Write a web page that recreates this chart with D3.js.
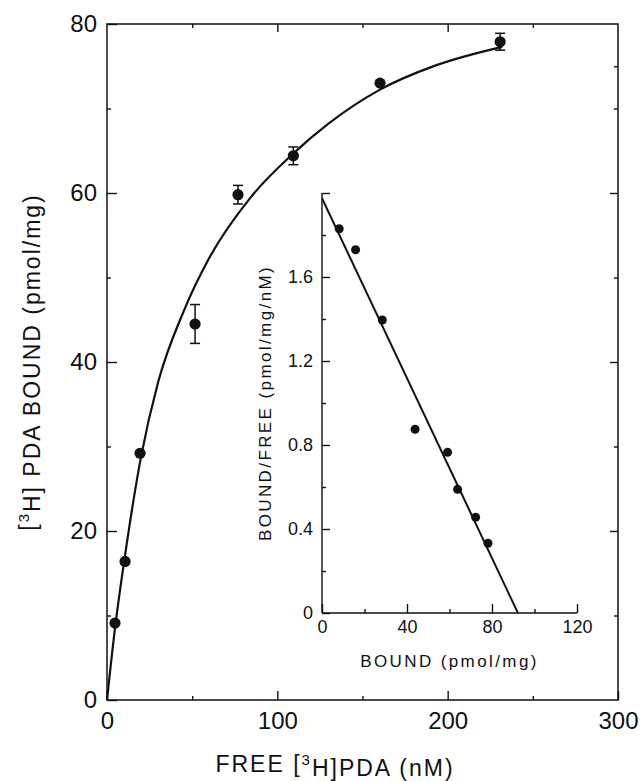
<!DOCTYPE html>
<html>
<head>
<meta charset="utf-8">
<script src="https://cdn.jsdelivr.net/npm/d3@7"></script>
<style>
  body { margin: 0; background: #fff; }
  svg { display: block; }
  .axis path { display: none; }
  .axis line { stroke: #111; stroke-width: 1.4; }
  .axis text { fill: #111; font-family: "Liberation Sans", Arial, sans-serif; }
</style>
</head>
<body>
<div id="chart"></div>
<script>
// main plot: free [3H]PDA (nM) vs bound (pmol/mg)
var freeConc = [4.7, 10.6, 19.4, 51.7, 76.9, 109.4, 160.3, 230.8];
var boundVal = [9.1, 16.4, 29.2, 44.5, 59.8, 64.4, 73.0, 77.9];
var boundErr = [0, 0, 0, 2.3, 1.1, 1.05, 0, 1.0];

// fitted saturation curve
var fitX = [0, 5, 10, 20, 30, 45, 60, 84, 109, 130, 160, 193, 232];
var fitY = [0, 9.0, 16.3, 28.8, 37.6, 46.0, 52.3, 59.4, 64.6, 68.2, 72.2, 75.1, 77.3];

// inset: Scatchard plot
var scBound = [8.1, 15.8, 28.4, 43.8, 59.1, 63.8, 72.3, 78.1];
var scRatio = [1.83, 1.73, 1.395, 0.875, 0.765, 0.589, 0.456, 0.332];
var scLineX = [0, 92.2];
var scLineY = [1.975, 0];

var xTicks = [0, 100, 200, 300];
var yTicks = [0, 20, 40, 60, 80];
var ixTicks = [0, 40, 80, 120];
var iyTicks = [0, 0.4, 0.8, 1.2, 1.6];

var W = 641, H = 781;
var font = '"Liberation Sans", Arial, sans-serif';

var svg = d3.select("#chart").append("svg")
    .attr("width", W)
    .attr("height", H);

/* Scales */
var x = d3.scaleLinear().domain([0, 300]).range([107, 618]);
var y = d3.scaleLinear().domain([0, 80]).range([700, 24]);
var ix = d3.scaleLinear().domain([0, 120]).range([322, 577]);
var iy = d3.scaleLinear().domain([0, 2]).range([613, 193]);

/* main frame */
svg.append("rect")
    .attr("x", x(0)).attr("y", y(80))
    .attr("width", x(300) - x(0)).attr("height", y(0) - y(80))
    .style("fill", "none").style("stroke", "#111").style("stroke-width", 1.5);

// bottom
svg.append("g").attr("class", "axis")
    .attr("transform", `translate(0, ${y(0)})`)
    .call(d3.axisBottom(x).tickValues(xTicks).tickSize(-9).tickPadding(12).tickFormat(d3.format("d")))
    .selectAll("text").style("font-size", "24px");
svg.append("g").attr("class", "axis")
    .attr("transform", `translate(0, ${y(0)})`)
    .call(d3.axisBottom(x).tickValues([50, 150, 250]).tickSize(-4).tickFormat(""));
// top
svg.append("g").attr("class", "axis")
    .attr("transform", `translate(0, ${y(80)})`)
    .call(d3.axisTop(x).tickValues([100, 200]).tickSize(-8).tickFormat(""));
svg.append("g").attr("class", "axis")
    .attr("transform", `translate(0, ${y(80)})`)
    .call(d3.axisTop(x).tickValues([50, 150, 250]).tickSize(-4).tickFormat(""));
// left
svg.append("g").attr("class", "axis")
    .attr("transform", `translate(${x(0)}, 0)`)
    .call(d3.axisLeft(y).tickValues(yTicks).tickSize(-10).tickPadding(10).tickFormat(d3.format("d")))
    .selectAll("text").style("font-size", "24px");
svg.append("g").attr("class", "axis")
    .attr("transform", `translate(${x(0)}, 0)`)
    .call(d3.axisLeft(y).tickValues([10, 30, 50, 70]).tickSize(-4).tickFormat(""));
// right
svg.append("g").attr("class", "axis")
    .attr("transform", `translate(${x(300)}, 0)`)
    .call(d3.axisRight(y).tickValues([20, 40, 60]).tickSize(-8).tickFormat(""));
svg.append("g").attr("class", "axis")
    .attr("transform", `translate(${x(300)}, 0)`)
    .call(d3.axisRight(y).tickValues([10, 30, 50, 70, 75]).tickSize(-4).tickFormat(""));

/* fitted curve */
var line = d3.line()
    .curve(d3.curveMonotoneX)
    .x(d => x(d[0]))
    .y(d => y(d[1]));
svg.append("path")
    .attr("d", line(fitX.map((v, i) => [v, fitY[i]])))
    .style("fill", "none").style("stroke", "#111").style("stroke-width", 2.2);

/* error bars */
var pts = freeConc.map((v, i) => ({ x: v, y: boundVal[i], e: boundErr[i] }));
var eb = svg.append("g").attr("class", "errbars")
    .selectAll("g").data(pts.filter(d => d.e > 0)).enter().append("g");
eb.append("line")
    .attr("x1", d => x(d.x)).attr("x2", d => x(d.x))
    .attr("y1", d => y(d.y + d.e)).attr("y2", d => y(d.y - d.e))
    .style("stroke", "#111").style("stroke-width", 1.5);
eb.selectAll(".cap").data(d => [[d.x, d.y + d.e], [d.x, d.y - d.e]]).enter()
    .append("line")
    .attr("x1", d => x(d[0]) - 5).attr("x2", d => x(d[0]) + 5)
    .attr("y1", d => y(d[1])).attr("y2", d => y(d[1]))
    .style("stroke", "#111").style("stroke-width", 1.5);

svg.append("g").selectAll("circle")
    .data(pts).enter().append("circle")
    .attr("cx", d => x(d.x))
    .attr("cy", d => y(d.y))
    .attr("r", 5.6)
    .style("fill", "#111");

/* main axis titles */
var xt = svg.append("text")
    .attr("x", 335).attr("y", 772)
    .attr("text-anchor", "middle")
    .style("font-family", font).style("font-size", "23px").style("letter-spacing", "2px")
    .style("fill", "#111");
xt.append("tspan").text("FREE [");
xt.append("tspan").attr("dy", "-0.45em").style("font-size", "15px").text("3");
xt.append("tspan").attr("dy", "0.45em").text("H]PDA (nM)");

var yt = svg.append("text")
    .attr("transform", `translate(36, ${y(40)}) rotate(-90)`)
    .attr("text-anchor", "middle")
    .style("font-family", font).style("font-size", "23px").style("letter-spacing", "2px")
    .style("fill", "#111");
yt.append("tspan").text("[");
yt.append("tspan").attr("dy", "-0.45em").style("font-size", "15px").text("3");
yt.append("tspan").attr("dy", "0.45em").text("H] PDA BOUND (pmol/mg)");

/* inset: Scatchard */
var inset = svg.append("g").attr("class", "inset");

inset.append("g").attr("class", "axis")
    .attr("transform", `translate(0, ${iy(0)})`)
    .call(d3.axisBottom(ix).tickValues(ixTicks).tickSize(-9).tickPadding(7).tickFormat(d3.format("d")))
    .selectAll("text").style("font-size", "18px");
inset.append("g").attr("class", "axis")
    .attr("transform", `translate(0, ${iy(0)})`)
    .call(d3.axisBottom(ix).tickValues([20, 60, 100]).tickSize(-4).tickFormat(""));
inset.append("g").attr("class", "axis")
    .attr("transform", `translate(${ix(0)}, 0)`)
    .call(d3.axisLeft(iy).tickValues(iyTicks.concat([2])).tickSize(-8).tickPadding(9)
        .tickFormat(d => d === 0 ? "0" : d === 2 ? "" : d3.format(".1f")(d)))
    .selectAll("text").style("font-size", "18px");
inset.append("g").attr("class", "axis")
    .attr("transform", `translate(${ix(0)}, 0)`)
    .call(d3.axisLeft(iy).tickValues([0.2, 0.6, 1.0, 1.4, 1.8]).tickSize(-4).tickFormat(""));

// inset axis lines
inset.append("line")
    .attr("x1", ix(0)).attr("x2", ix(0)).attr("y1", iy(0)).attr("y2", iy(2))
    .style("stroke", "#111").style("stroke-width", 1.4);
inset.append("line")
    .attr("x1", ix(0)).attr("x2", ix(120)).attr("y1", iy(0)).attr("y2", iy(0))
    .style("stroke", "#111").style("stroke-width", 1.4);

inset.append("line")
    .attr("x1", ix(scLineX[0])).attr("y1", iy(scLineY[0]))
    .attr("x2", ix(scLineX[1])).attr("y2", iy(scLineY[1]))
    .style("stroke", "#111").style("stroke-width", 2);

inset.append("g").selectAll("circle")
    .data(scBound.map((v, i) => [v, scRatio[i]])).enter().append("circle")
    .attr("cx", d => ix(d[0]))
    .attr("cy", d => iy(d[1]))
    .attr("r", 4.5)
    .style("fill", "#111");

inset.append("text")
    .attr("x", (ix(0) + ix(120)) / 2).attr("y", 667)
    .attr("text-anchor", "middle")
    .style("font-family", font).style("font-size", "17px").style("letter-spacing", "2.4px")
    .style("fill", "#111")
    .text("BOUND (pmol/mg)");

inset.append("text")
    .attr("transform", `translate(271, ${iy(1)}) rotate(-90)`)
    .attr("text-anchor", "middle")
    .style("font-family", font).style("font-size", "17px").style("letter-spacing", "2.4px")
    .style("fill", "#111")
    .text("BOUND/FREE (pmol/mg/nM)");
</script>
</body>
</html>
